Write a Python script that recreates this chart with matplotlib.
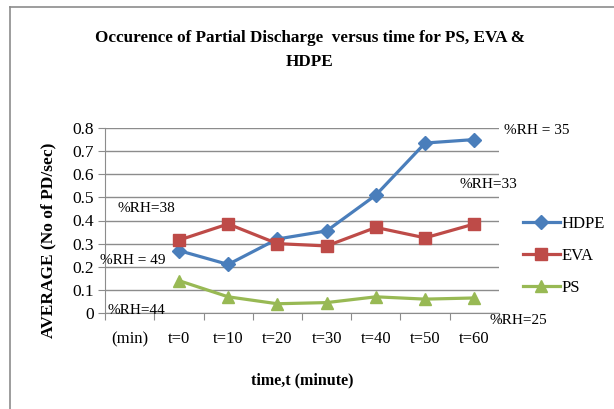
import matplotlib
matplotlib.use("Agg")
import matplotlib.pyplot as plt
from matplotlib.lines import Line2D

plt.rcParams["font.family"] = ["Liberation Serif", "DejaVu Serif"]

categories = ["(min)", "t=0", "t=10", "t=20", "t=30", "t=40", "t=50", "t=60"]
hdpe = [0.27, 0.21, 0.32, 0.355, 0.51, 0.735, 0.75]
eva = [0.315, 0.385, 0.30, 0.29, 0.37, 0.325, 0.385]
ps = [0.14, 0.07, 0.04, 0.045, 0.07, 0.06, 0.065]
y_ticks = [0, 0.1, 0.2, 0.3, 0.4, 0.5, 0.6, 0.7, 0.8]
y_tick_labels = ["0", "0.1", "0.2", "0.3", "0.4", "0.5", "0.6", "0.7", "0.8"]

# humidity notes as (text, x px, y px) in figure pixels
rh_notes = [
    ("%RH = 35", 504, 131),
    ("%RH=33", 459, 184),
    ("%RH=38", 117, 208),
    ("%RH = 49", 100, 261),
    ("%RH=44", 108, 311),
    ("%RH=25", 490, 321),
]

W, H = 614, 409
fig = plt.figure(figsize=(W / 100, H / 100), dpi=100)
ax = fig.add_axes([105 / W, (H - 313) / H, (499 - 105) / W, (313 - 128) / H])

x = list(range(1, len(categories)))
grid_c = "#8c8c8c"
ax.plot(x, hdpe, color="#4A7EBB", lw=2.3, marker="D", ms=7, label="HDPE")
ax.plot(x, eva, color="#BE4B48", lw=2.3, marker="s", ms=9, label="EVA")
ax.plot(x, ps, color="#98B954", lw=2.3, marker="^", ms=9, label="PS")

ax.set_xlim(-0.5, len(categories) - 0.5)
ax.set_ylim(0, 0.8)
ax.set_yticks(y_ticks)
ax.set_yticklabels(y_tick_labels, fontsize=12.5)
ax.yaxis.grid(True, color=grid_c, lw=1)
ax.set_axisbelow(True)

# category ticks between labels, labels centred
ax.set_xticks([i - 0.5 for i in range(len(categories) + 1)])
ax.set_xticklabels([])
ax.set_xticks(range(len(categories)), minor=True)
ax.set_xticklabels(categories, minor=True, fontsize=12)
ax.tick_params(axis="x", which="major", length=5, color=grid_c)
ax.tick_params(axis="x", which="minor", length=0, pad=13)
ax.tick_params(axis="y", length=5, color=grid_c, pad=3)

for side in ["top", "right"]:
    ax.spines[side].set_visible(False)
for side in ["left", "bottom"]:
    ax.spines[side].set_color(grid_c)

handles = [
    Line2D([], [], color="#4A7EBB", lw=2.3, marker="D", ms=7),
    Line2D([], [], color="#BE4B48", lw=2.3, marker="s", ms=9),
    Line2D([], [], color="#98B954", lw=2.3, marker="^", ms=9),
]
fig.legend(handles, ["HDPE", "EVA", "PS"], loc="center left",
           bbox_to_anchor=(508 / W, 1 - 256 / H), frameon=False,
           fontsize=12, handlelength=2.2, handletextpad=0.1, labelspacing=0.95)

fig.text(310 / W, 1 - 38 / H, "Occurence of Partial Discharge  versus time for PS, EVA &",
         ha="center", va="center", fontsize=12.3, fontweight="bold")
fig.text(310 / W, 1 - 62 / H, "HDPE", ha="center", va="center",
         fontsize=12.3, fontweight="bold")
fig.text(48 / W, 1 - 240 / H, "AVERAGE (No of PD/sec)", rotation=90,
         ha="center", va="center", fontsize=12.5, fontweight="bold")
fig.text(302 / W, 1 - 380 / H, "time,t (minute)", ha="center", va="center",
         fontsize=11.5, fontweight="bold")

for txt, px, py in rh_notes:
    fig.text(px / W, 1 - py / H, txt, ha="left", va="center", fontsize=11)

# chart area border (left and top edges visible)
fig.add_artist(Line2D([10 / W, 10 / W], [0, 1 - 7 / H], color="#8c8c8c", lw=1.2))
fig.add_artist(Line2D([10 / W, 1], [1 - 7 / H, 1 - 7 / H], color="#8c8c8c", lw=1.2))

fig.savefig("out.png", dpi=100)
